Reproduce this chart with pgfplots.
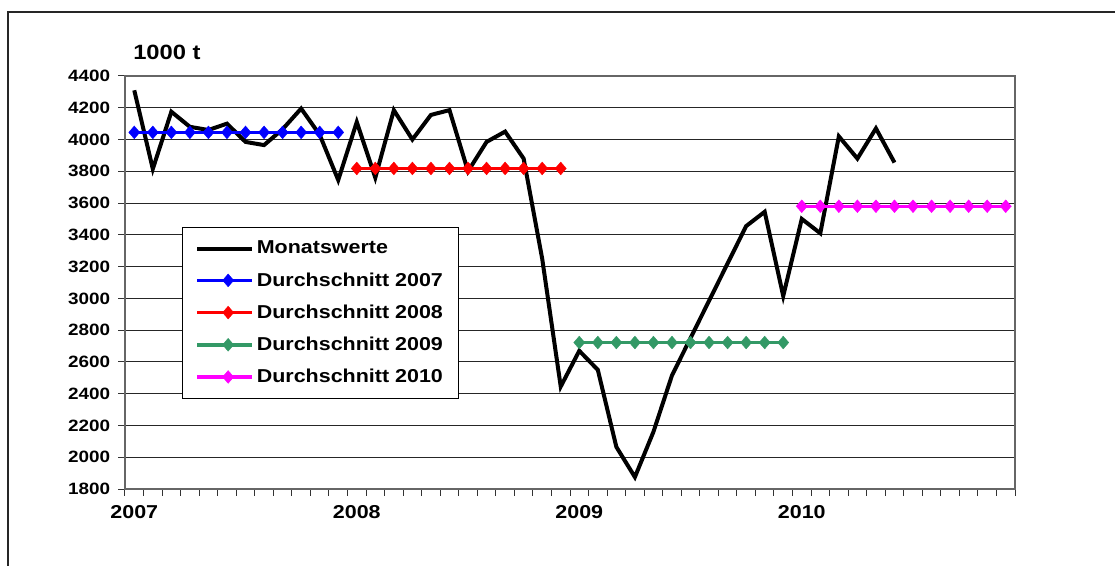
\documentclass[border=0pt]{standalone}
\usepackage{fontspec}
\setmainfont{Liberation Sans}[FakeStretch=1.15]
\usepackage{pgfplots}
\pgfplotsset{compat=1.18}
\usepackage{pgfplotstable}
\definecolor{cblue}{RGB}{0,0,255}
\definecolor{cred}{RGB}{255,0,0}
\definecolor{cgreen}{RGB}{51,153,102}
\definecolor{cmag}{RGB}{255,0,255}
\newcommand{\ytfont}{\fontsize{12.3pt}{14pt}\selectfont\bfseries}

\pgfplotstableread{
x y
0 4310
1 3815
2 4175
3 4080
4 4060
5 4100
6 3985
7 3965
8 4065
9 4195
10 4030
11 3745
12 4110
13 3760
14 4185
15 4000
16 4155
17 4185
18 3800
19 3985
20 4050
21 3880
22 3250
23 2445
24 2670
25 2550
26 2065
27 1875
28 2160
29 2515
30 2750
31 2985
32 3220
33 3455
34 3545
35 3015
36 3500
37 3410
38 4020
39 3880
40 4070
41 3855
}\monthly

\begin{document}
\begin{tikzpicture}
\useasboundingbox (0,0) rectangle (836.25pt,423.75pt);
\draw[line width=1.1pt, black!85] (6pt,-5pt) -- (6pt,414.75pt) -- (845pt,414.75pt);
\begin{axis}[
  at={(93.75pt,57pt)}, anchor=south west,
  scale only axis, width=667.5pt, height=309.75pt,
  xmin=-0.5, xmax=47.5, ymin=1800, ymax=4400,
  ytick={1800,2000,...,4400},
  yticklabels={1800,2000,2200,2400,2600,2800,3000,3200,3400,3600,3800,4000,4200,4400},
  xtick={-0.5,0.5,...,47.5}, xticklabels={},
  extra x ticks={0,12,24,36},
  extra x tick labels={2007,2008,2009,2010},
  extra x tick style={major tick length=0pt, grid=none},
  tick pos=left,
  tick align=outside, major tick length=5pt,
  tick style={black!80, line width=0.75pt},
  axis line style={gray!80!black, line width=0.9pt},
  ymajorgrids, grid style={black!85, line width=0.75pt},
  yticklabel style={font=\ytfont, anchor=east, inner sep=0pt, xshift=-6pt},
  xticklabel style={font=\fontsize{14pt}{16pt}\selectfont\bfseries, anchor=north, inner sep=0pt, yshift=-12pt},
  legend style={at={(rel axis cs:0.0644,0.6337)}, anchor=north west,
    draw=black, line width=0.75pt, fill=white,
    font=\fontsize{14pt}{16pt}\selectfont\bfseries,
    inner xsep=9.5pt, inner ysep=8pt, row sep=8.5pt,
    column sep=0pt},
  legend cell align=left,
  legend image code/.code={\path (-5pt,0pt) -- (0pt,0pt); \draw[#1, mark repeat=2, mark phase=2] plot coordinates {(0pt,0pt) (18pt,0pt) (36pt,0pt)};},
]
\addplot[black, line width=3pt, no markers, line join=miter] table[x=x,y=y]{\monthly};
\addlegendentry{Monatswerte}
\addplot[cblue, line width=2.6pt, mark=diamond*, mark size=4.8pt, mark options={solid, xscale=1.15, line width=0.3pt}] coordinates {(0,4045)(1,4045)(2,4045)(3,4045)(4,4045)(5,4045)(6,4045)(7,4045)(8,4045)(9,4045)(10,4045)(11,4045)};
\addlegendentry{Durchschnitt 2007}
\addplot[cred, line width=2.6pt, mark=diamond*, mark size=4.8pt, mark options={solid, xscale=1.15, line width=0.3pt}] coordinates {(12,3818)(13,3818)(14,3818)(15,3818)(16,3818)(17,3818)(18,3818)(19,3818)(20,3818)(21,3818)(22,3818)(23,3818)};
\addlegendentry{Durchschnitt 2008}
\addplot[cgreen, line width=2.6pt, mark=diamond*, mark size=4.8pt, mark options={solid, xscale=1.15, line width=0.3pt}] coordinates {(24,2722)(25,2722)(26,2722)(27,2722)(28,2722)(29,2722)(30,2722)(31,2722)(32,2722)(33,2722)(34,2722)(35,2722)};
\addlegendentry{Durchschnitt 2009}
\addplot[cmag, line width=2.6pt, mark=diamond*, mark size=4.8pt, mark options={solid, xscale=1.15, line width=0.3pt}] coordinates {(36,3580)(37,3580)(38,3580)(39,3580)(40,3580)(41,3580)(42,3580)(43,3580)(44,3580)(45,3580)(46,3580)(47,3580)};
\addlegendentry{Durchschnitt 2010}
\end{axis}
\node[anchor=base west, inner sep=0pt, font=\fontsize{15.5pt}{18pt}\selectfont\bfseries] at (99.75pt,379.3pt) {1000 t};
\end{tikzpicture}
\end{document}
